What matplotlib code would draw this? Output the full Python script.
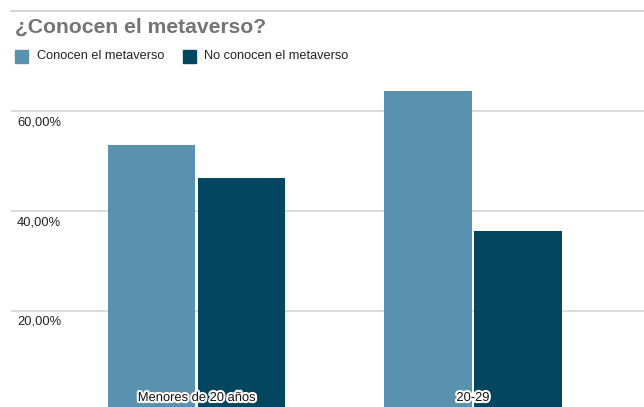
import matplotlib
matplotlib.use("Agg")
import matplotlib.pyplot as plt
import matplotlib.patheffects as pe
from matplotlib.lines import Line2D
from matplotlib.patches import Rectangle
import numpy as np

plt.rcParams['font.family'] = ['Liberation Sans', 'DejaVu Sans']

# Data
categories = ["Menores de 20 años", "20-29"]
series_names = ["Conocen el metaverso", "No conocen el metaverso"]
conocen = [53.3, 64.0]
no_conocen = [46.7, 36.0]
yticks = [20, 40, 60]
ytick_labels = ["20,00%", "40,00%", "60,00%"]

colors = ["#5a91ae", "#02465f"]
W, H = 644, 407
fig = plt.figure(figsize=(W / 100, H / 100), dpi=100)

# Axes box in pixel coordinates: x from 11 to 644, y from 80 (top) to 407 (bottom)
ax = fig.add_axes([11 / W, 0, (W - 11) / W, (H - 80) / H])
ax.set_xlim(-0.671, 1.618)
ax.set_ylim(0.8, 66.2)
for s in ax.spines.values():
    s.set_visible(False)
ax.set_xticks([])
ax.set_yticks([])

# Gridlines and tick labels (labels sit below each line)
for v, lab in zip(yticks, ytick_labels):
    ax.axhline(v, color="#d9d9d9", lw=1.3, zorder=0)
    ax.annotate(lab, xy=(0, v), xycoords=("axes fraction", "data"),
                xytext=(6, -11), textcoords="offset pixels",
                ha="left", va="center", fontsize=9.3, color="#222222")

x = np.arange(len(categories))
width = 0.316
off = 0.1625
ax.bar(x - off, conocen, width, color=colors[0], zorder=2)
ax.bar(x + off, no_conocen, width, color=colors[1], zorder=2)

# Category labels drawn over the bars
for xi, cat in zip(x, categories):
    ax.text(xi, 0.0275, cat, transform=ax.get_xaxis_transform(),
            ha="center", va="center", fontsize=9.3, color="#111111", zorder=5,
            path_effects=[pe.withStroke(linewidth=3, foreground="white")])

# Top separator line
fig.add_artist(Line2D([11 / W, 1], [1 - 11 / H, 1 - 11 / H], color="#cccccc", lw=1.2))

# Title
fig.text(15 / W, 1 - 27 / H, "¿Conocen el metaverso?", ha="left", va="center",
         fontsize=15.2, fontweight="bold", color="#757575")

# Legend
leg_y = 56
for (sx, tx), name, c in zip([(15, 37), (183, 204)], series_names, colors):
    fig.add_artist(Rectangle((sx / W, 1 - (leg_y + 6.5) / H), 13 / W, 13 / H,
                             transform=fig.transFigure, color=c))
    fig.text(tx / W, 1 - leg_y / H, name, ha="left", va="center",
             fontsize=9.2, color="#222222")

fig.savefig("out.png", dpi=100)
